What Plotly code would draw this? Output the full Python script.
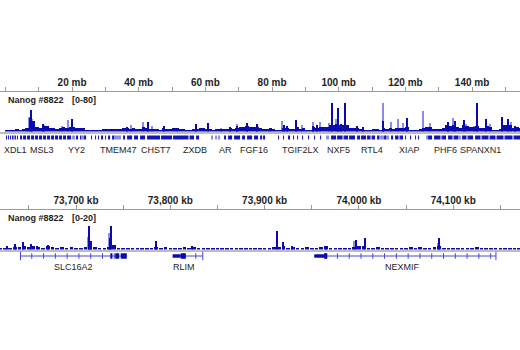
import numpy as np
import plotly.graph_objects as go

# ---------------- data: chromosome-wide view (mb) ----------------
top_range_mb = [-1.62, 154.38]
top_tick_mb = [0, 10, 20, 30, 40, 50, 60, 70, 80, 90, 100, 110, 120, 130, 140, 150]
top_tick_text = ["", "", "20 mb", "", "40 mb", "", "60 mb", "", "80 mb", "", "100 mb", "", "120 mb", "", "140 mb", ""]

# background signal per 1 mb bin (starting at 0 mb)
top_bg = [3, 3, 3, 7, 6, 8, 11, 40, 30, 14, 12, 17, 16, 12, 10, 9, 11, 14, 12, 14,
          13, 12, 11, 12, 5, 4, 4, 3, 4, 8, 7, 9, 8, 7, 9, 10, 12, 9, 10, 7,
          7, 14, 12, 7, 8, 7, 6, 12, 9, 8, 11, 11, 8, 8, 6, 4, 8, 9, 11, 10,
          8, 7, 6, 7, 8, 8, 7, 10, 7, 12, 13, 14, 16, 13, 14, 15, 10, 8, 9, 10,
          7, 6, 6, 12, 11, 8, 8, 14, 8, 10, 6, 6, 14, 11, 13, 14, 14, 18, 20, 22,
          20, 18, 20, 12, 10, 12, 8, 6, 5, 5, 7, 7, 4, 12, 8, 10, 9, 10, 11, 12,
          14, 4, 3, 4, 7, 12, 13, 15, 8, 8, 9, 11, 18, 17, 20, 15, 11, 18, 16, 15,
          14, 16, 10, 12, 16, 14, 6, 5, 9, 18, 20, 18, 12, 13, 11]

top_peak_mb = [7.7, 11.3, 20.0, 36.5, 42.8, 47.5, 57.2, 60.8, 67.4, 69.5, 72.4, 75.5,
               83.6, 84.5, 87.3, 92.3, 93.5, 98.0, 99.8, 100.7, 101.9, 105.5, 107.3,
               113.3, 120.5, 132.8, 134.8, 137.5, 141.5, 144.2, 149.0, 150.8, 152.9]
top_peak_val = [60, 22, 36, 14, 28, 17, 22, 25, 14, 17, 25, 22,
                20, 17, 32, 17, 19, 80, 66, 22, 80, 17, 14,
                30, 40, 27, 29, 34, 80, 37, 41, 36, 16]

top_light_mb = [6.5, 7.3, 8.2, 11.8, 17.2, 18.9, 37.8, 41.5, 44.0, 51.5, 64.8, 69.5,
                79.5, 83.1, 89.0, 92.5, 94.4, 97.1, 99.2, 113.3, 115.8, 117.8, 119.3,
                125.3, 127.4, 133.0, 134.5, 138.3, 140.8, 145.4, 151.7]
top_light_val = [12, 42, 35, 20, 17, 34, 19, 28, 16, 11, 11, 22,
                 11, 30, 19, 27, 27, 25, 36, 80, 27, 36, 25,
                 59, 25, 20, 40, 22, 17, 22, 28]

# gene density row (mb segments)
gene_dark_start = [0.2, 0.8, 1.4, 2.0, 2.9, 3.5, 4.4, 5.3, 6.5, 7.7, 8.9, 10.1, 11.3, 12.5, 13.7,
                   14.9, 16.1, 17.3, 18.5, 21.2, 22.4, 23.6, 25.7, 26.9, 27.8, 28.7, 29.9, 30.8,
                   32.0, 35.3, 36.5, 38.6, 40.4, 42.5, 46.7, 50.3, 55.4, 57.2, 65.6, 66.8, 68.6,
                   71.0, 72.5, 74.6, 76.4, 77.3, 81.8, 83.3, 84.8, 86.3, 87.5, 89.0, 90.8, 92.6,
                   94.4, 97.7, 99.5, 101.6, 103.1, 105.5, 106.7, 108.5, 110.0, 111.5, 113.6,
                   115.7, 116.9, 118.4, 119.9, 121.4, 122.9, 123.8, 126.8, 128.6, 131.0, 132.8,
                   134.6, 137.0, 138.8, 140.9, 143.0, 145.4, 147.5, 149.9, 152.6]
gene_dark_end = [0.5, 1.1, 1.7, 2.4, 3.2, 3.8, 5.0, 6.2, 7.4, 8.6, 9.8, 11.0, 12.2, 13.4, 14.6,
                 15.8, 17.0, 18.2, 19.7, 21.8, 22.7, 24.2, 26.0, 27.2, 28.1, 29.3, 30.2, 31.4,
                 32.6, 35.9, 38.0, 39.8, 41.9, 46.4, 50.0, 54.8, 56.6, 58.1, 66.2, 68.0, 70.4,
                 71.9, 74.0, 75.8, 77.0, 77.9, 82.1, 83.6, 85.4, 86.6, 87.8, 89.3, 91.1, 92.9,
                 94.7, 99.2, 101.0, 102.8, 104.9, 106.4, 108.2, 109.4, 110.9, 112.1, 114.2,
                 116.3, 117.8, 119.3, 120.2, 121.7, 123.2, 124.1, 128.0, 130.4, 132.2, 134.0,
                 135.8, 138.2, 140.3, 142.4, 144.8, 146.9, 149.3, 152.0, 154.4]
gene_light_start = [2.4, 20.0, 22.7, 32.6, 54.8, 61.7, 62.9, 63.8, 96.2, 101.0, 109.4, 112.1,
                    114.2, 117.8, 126.2, 130.4, 134.0, 135.8, 138.2, 142.4, 144.8, 146.9,
                    149.3, 152.0]
gene_light_end = [2.9, 20.9, 23.6, 34.7, 55.4, 62.3, 63.5, 64.4, 97.1, 101.6, 110.0, 113.6,
                  115.1, 118.4, 126.8, 131.0, 134.6, 136.7, 138.8, 143.0, 145.4, 147.5,
                  149.9, 152.6]

top_gene_names = ["XDL1", "MSL3", "YY2", "TMEM47", "CHST7", "ZXDB", "AR", "FGF16",
                  "TGIF2LX", "NXF5", "RTL4", "XIAP", "PHF6", "SPANXN1"]
top_gene_mb = [2.9, 11.1, 21.4, 33.8, 45.2, 56.9, 65.9, 74.5,
               88.4, 99.8, 110.1, 121.2, 131.9, 142.5]

# ---------------- data: zoomed view (kb) ----------------
bot_range_kb = [73619.4, 74170.8]
bot_tick_kb = [73650, 73700, 73750, 73800, 73850, 73900, 73950, 74000, 74050, 74100, 74150]
bot_tick_text = ["", "73,700 kb", "", "73,800 kb", "", "73,900 kb", "", "74,000 kb", "", "74,100 kb", ""]

# background signal per 5 kb bin starting at 73,620 kb
bot_bg = [1, 1.5, 1, 2, 2, 3, 2, 2.5, 2, 1.5, 3, 2, 1.5, 2, 1.5, 2, 1.5, 1.5, 2, 4,
          2, 1.5, 1.5, 2, 3.5, 1.5, 1.5, 1, 1, 1, 1.5, 1, 1.5, 2, 1.5, 2, 1.5, 1.5, 1.5, 2,
          1.5, 2, 1.5, 1, 1, 1, 1.5, 1, 1, 1.5, 1.5, 1, 1.5, 1.5, 1.5, 1, 1, 1.5, 2, 2,
          2.5, 1.5, 2, 1.5, 1.5, 2, 1.5, 1.5, 2, 2.5, 1.5, 1.5, 1.5, 1.5, 1.5, 2, 3, 2.5, 1.5, 1.5,
          2, 1.5, 1.5, 1.5, 1.5, 1, 1.5, 2, 1.5, 2, 1.5, 1.5, 2, 2.5, 1.5, 1.5, 1.5, 1, 1.5, 1.5,
          1.5, 2, 1, 1, 1.5, 1, 1.5, 1.5, 1, 1.5, 1]
bot_bg_start_kb = 73620
bot_bg_step_kb = 5

bot_peak_kb = [73626.8, 73635.3, 73643.8, 73652.3, 73658.6, 73670.3, 73714.1, 73715.5,
               73736.0, 73737.1, 73784.8, 73823.0, 73912.8, 73919.5, 73929.0, 73965.0,
               73996.9, 74006.4, 74085.0]
bot_peak_val = [2.5, 4.2, 5.3, 4, 2.5, 3.5, 16.3, 6, 8.5, 16.3, 6.5, 3, 12.9, 5.3, 3, 3, 7, 8, 8]
bot_light_kb = [73713.0, 73735.5, 73995.5, 74084.0]
bot_light_val = [9, 12, 6, 5]

# gene models (kb)
genes = [
    dict(name="SLC16A2", start=73641.1, end=73753.8, strand="+", label_kb=73697,
         utr=[], cds=[[73736.4, 73738.6], [73741.6, 73745.8], [73747.4, 73753.8]]),
    dict(name="RLIM", start=73802.5, end=73834.4, strand="-", label_kb=73815,
         utr=[[73802.5, 73811.0]], cds=[[73811.0, 73816.5]]),
    dict(name="NEXMIF", start=73952.7, end=74145.3, strand="-", label_kb=74046,
         utr=[[73952.7, 73963.0]], cds=[[73963.0, 73966.5]]),
]

# ---------------- styling ----------------
DARK = "rgb(10,10,175)"
LIGHT = "rgb(140,140,228)"
GENE_LINE = "rgb(70,70,215)"
TXT = "#1e1e1e"
FONT = "Liberation Sans, Arial, sans-serif"
W, H = 520, 350


def py(px):
    return 1 - px / H


def seg_xy(starts, ends, yv=0.5):
    xs, ys = [], []
    for s, e in zip(starts, ends):
        xs += [s, e, None]
        ys += [yv, yv, None]
    return xs, ys


fig = go.Figure()

# invisible anchors so that the ruler subplots get drawn
fig.add_trace(go.Scatter(x=[top_range_mb[0]], y=[-5], mode="markers", marker=dict(opacity=0),
                         xaxis="x", yaxis="y"))
fig.add_trace(go.Scatter(x=[bot_range_kb[0]], y=[-5], mode="markers", marker=dict(opacity=0),
                         xaxis="x4", yaxis="y4"))

# top signal
fig.add_trace(go.Bar(x=top_light_mb, y=top_light_val, width=0.45,
                     marker=dict(color=LIGHT, line=dict(width=0)), xaxis="x2", yaxis="y2"))
fig.add_trace(go.Bar(x=np.arange(len(top_bg)) + 0.5, y=top_bg, width=1.0,
                     marker=dict(color=DARK, line=dict(width=0)), xaxis="x2", yaxis="y2"))
fig.add_trace(go.Bar(x=top_peak_mb, y=top_peak_val, width=0.33,
                     marker=dict(color=DARK, line=dict(width=0)), xaxis="x2", yaxis="y2"))

# top gene row
xs, ys = seg_xy(gene_light_start, gene_light_end)
fig.add_trace(go.Scatter(x=xs, y=ys, mode="lines", line=dict(color=LIGHT, width=4),
                         xaxis="x3", yaxis="y3"))
xs, ys = seg_xy(gene_dark_start, gene_dark_end)
fig.add_trace(go.Scatter(x=xs, y=ys, mode="lines", line=dict(color="rgb(20,20,185)", width=4),
                         xaxis="x3", yaxis="y3"))

# bottom signal
fig.add_trace(go.Bar(x=bot_light_kb, y=bot_light_val, width=1.6,
                     marker=dict(color=LIGHT, line=dict(width=0)), xaxis="x5", yaxis="y5"))
bot_x = bot_bg_start_kb + bot_bg_step_kb * np.arange(len(bot_bg))
fig.add_trace(go.Bar(x=bot_x, y=bot_bg, width=3.8,
                     marker=dict(color=DARK, line=dict(width=0)), xaxis="x5", yaxis="y5"))
fig.add_trace(go.Bar(x=bot_peak_kb, y=bot_peak_val, width=1.1,
                     marker=dict(color=DARK, line=dict(width=0)), xaxis="x5", yaxis="y5"))

# bottom gene models
for g in genes:
    fig.add_trace(go.Scatter(x=[g["start"], g["end"]], y=[0, 0], mode="lines",
                             line=dict(color=GENE_LINE, width=1), xaxis="x6", yaxis="y6"))
    ticks = np.arange(g["start"] + 12, g["end"] - 2, 12.5)
    fig.add_trace(go.Scatter(x=ticks, y=np.zeros(len(ticks)), mode="markers",
                             marker=dict(symbol="line-ns", size=4, line=dict(color=GENE_LINE, width=1)),
                             xaxis="x6", yaxis="y6"))
    fig.add_trace(go.Scatter(x=[g["start"] if g["strand"] == "+" else g["end"]], y=[0], mode="markers",
                             marker=dict(symbol="line-ns", size=6, line=dict(color=GENE_LINE, width=1)),
                             xaxis="x6", yaxis="y6"))
    if g["utr"]:
        xs, ys = seg_xy([u[0] for u in g["utr"]], [u[1] for u in g["utr"]], 0)
        fig.add_trace(go.Scatter(x=xs, y=ys, mode="lines", line=dict(color=DARK, width=3.5),
                                 xaxis="x6", yaxis="y6"))
    xs, ys = seg_xy([c[0] for c in g["cds"]], [c[1] for c in g["cds"]], 0)
    fig.add_trace(go.Scatter(x=xs, y=ys, mode="lines", line=dict(color=DARK, width=5.5),
                             xaxis="x6", yaxis="y6"))

hidden_y = dict(visible=False, fixedrange=True)
plain_x = dict(showgrid=False, zeroline=False, showticklabels=False, ticks="")
ruler_font = dict(family=FONT, size=10, color=TXT, weight="bold")
ruler_common = dict(domain=[0, 1], side="top", visible=True,
                    showline=True, linecolor="#9a9a9a", linewidth=1, tickmode="array",
                    ticks="outside", ticklen=4, tickcolor="#9a9a9a", tickwidth=1,
                    ticklabelstandoff=-3, tickfont=ruler_font, showgrid=False, zeroline=False)

layout = dict(
    width=W, height=H, margin=dict(l=0, r=0, t=0, b=0),
    paper_bgcolor="white", plot_bgcolor="rgba(0,0,0,0)",
    showlegend=False, barmode="overlay", bargap=0, hovermode=False,
    xaxis=dict(range=top_range_mb, anchor="y", tickvals=top_tick_mb, ticktext=top_tick_text,
               **ruler_common),
    yaxis=dict(domain=[py(100), py(92)], range=[0, 1], **hidden_y),
    xaxis2=dict(range=top_range_mb, domain=[0, 1], anchor="y2",
                showline=True, linecolor="#bdbdbd", linewidth=2, **plain_x),
    yaxis2=dict(domain=[py(131.5), py(102.5)], range=[0, 80], **hidden_y),
    xaxis3=dict(range=top_range_mb, domain=[0, 1], anchor="y3", visible=False),
    yaxis3=dict(domain=[py(140), py(135)], range=[0, 1], **hidden_y),
    xaxis4=dict(range=bot_range_kb, anchor="y4", tickvals=bot_tick_kb, ticktext=bot_tick_text,
                **ruler_common),
    yaxis4=dict(domain=[py(218), py(209.5)], range=[0, 1], **hidden_y),
    xaxis5=dict(range=bot_range_kb, domain=[0, 1], anchor="y5",
                showline=True, linecolor="#bdbdbd", linewidth=2, **plain_x),
    yaxis5=dict(domain=[py(249.5), py(220.5)], range=[0, 20], **hidden_y),
    xaxis6=dict(range=bot_range_kb, domain=[0, 1], anchor="y6", visible=False),
    yaxis6=dict(domain=[py(262), py(250)], range=[-1, 1], **hidden_y),
)
fig.update_layout(**layout)

ann = []
label_font = dict(family=FONT, size=9, color=TXT, weight="bold")
for y_px, rng in [(100, "[0-80]"), (218, "[0-20]")]:
    ann.append(dict(x=6 / W, y=py(y_px), xref="paper", yref="paper", text="Nanog #8822",
                    showarrow=False, xanchor="left", yanchor="middle", font=label_font))
    ann.append(dict(x=70 / W, y=py(y_px), xref="paper", yref="paper", text=rng,
                    showarrow=False, xanchor="left", yanchor="middle", font=label_font))
gene_font = dict(family=FONT, size=9, color=TXT)
for nm, pos in zip(top_gene_names, top_gene_mb):
    ann.append(dict(x=pos, y=py(150), xref="x3", yref="paper", text=nm, showarrow=False,
                    xanchor="center", yanchor="middle", font=gene_font))
for g in genes:
    ann.append(dict(x=g["label_kb"], y=py(267), xref="x6", yref="paper", text=g["name"],
                    showarrow=False, xanchor="center", yanchor="middle", font=gene_font))
fig.update_layout(annotations=ann)

fig.write_html("out.html")
